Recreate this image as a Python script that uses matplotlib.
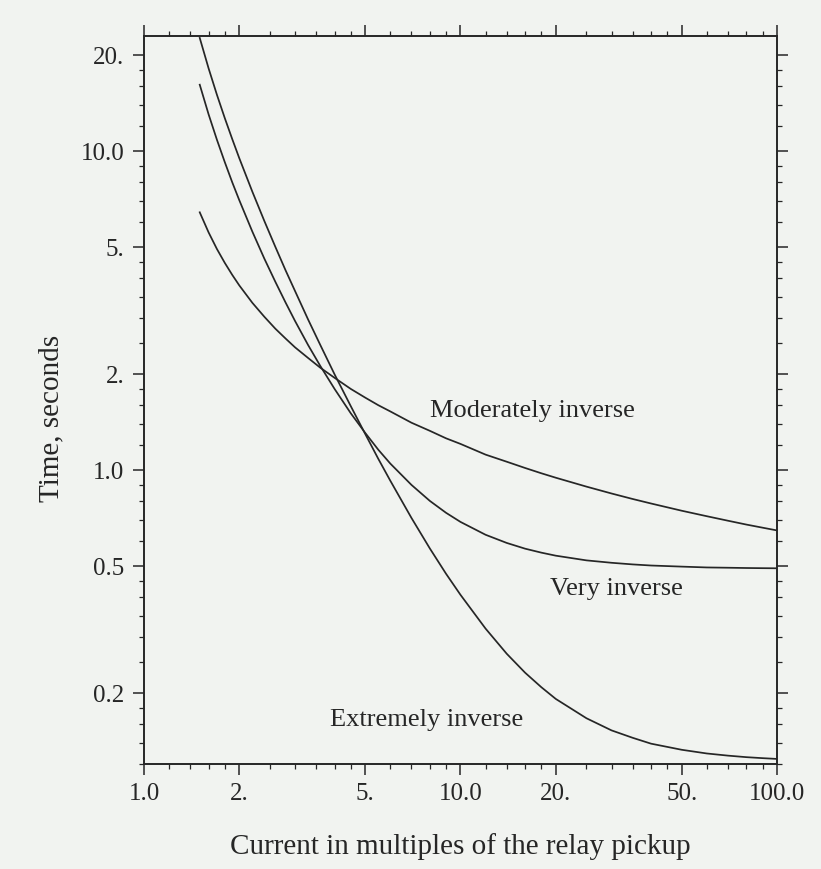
import numpy as np
import matplotlib
matplotlib.use('Agg')
import matplotlib.pyplot as plt
from matplotlib.ticker import FixedLocator, NullFormatter

plt.rcParams['font.family'] = ['Liberation Serif', 'DejaVu Serif']

# multiples of pickup current
current = [1.5, 1.6, 1.7, 1.8, 1.9, 2.0, 2.2, 2.4, 2.6, 2.8, 3.0, 3.3, 3.6, 4.0, 4.5,
           5.0, 5.5, 6, 7, 8, 9, 10, 12, 14, 16, 18, 20, 25, 30, 35, 40, 50,
           60, 70, 80, 90, 100]
# operating time, seconds
moderately = [6.44, 5.57, 4.94, 4.47, 4.10, 3.80, 3.35, 3.03, 2.78, 2.59, 2.43, 2.25, 2.10,
              1.95, 1.80, 1.69, 1.60, 1.53, 1.41, 1.33, 1.26, 1.21, 1.12, 1.064, 1.017,
              0.979, 0.948, 0.889, 0.846, 0.813, 0.787, 0.747, 0.718, 0.695, 0.676,
              0.661, 0.648]
very = [16.18, 13.06, 10.87, 9.25, 8.00, 7.03, 5.60, 4.61, 3.90, 3.36, 2.94, 2.47, 2.13,
        1.80, 1.51, 1.31, 1.16, 1.05, 0.900, 0.802, 0.736, 0.689, 0.628, 0.592, 0.568,
        0.552, 0.540, 0.522, 0.513, 0.507, 0.503, 0.499, 0.496, 0.495, 0.494, 0.4934,
        0.493]
extremely = [22.68, 18.20, 15.04, 12.71, 10.93, 9.52, 7.47, 6.05, 5.02, 4.24, 3.65, 2.97,
             2.48, 2.00, 1.59, 1.30, 1.086, 0.928, 0.709, 0.569, 0.474, 0.407, 0.319,
             0.266, 0.232, 0.209, 0.192, 0.167, 0.153, 0.145, 0.139, 0.133, 0.1295,
             0.1275, 0.1261, 0.1252, 0.1245]

x_ticks = [1, 2, 5, 10, 20, 50, 100]
x_tick_labels = ['1.0', '2.', '5.', '10.0', '20.', '50.', '100.0']
y_ticks = [0.2, 0.5, 1, 2, 5, 10, 20]
y_tick_labels = ['0.2', '0.5', '1.0', '2.', '5.', '10.0', '20.']
minor_steps = [1.2, 1.4, 1.6, 1.8, 2.5, 3, 3.5, 4, 4.5, 6, 7, 8, 9]

ink = '#262626'
paper = '#f1f3f0'

fig = plt.figure(figsize=(8.21, 8.69), dpi=100, facecolor=paper)
ax = fig.add_axes([0.1754, 0.1208, 0.771, 0.8378], facecolor=paper)

ax.plot(current, moderately, color=ink, lw=1.25)
ax.plot(current, very, color=ink, lw=1.25)
ax.plot(current, extremely, color=ink, lw=1.25)

ax.set_xscale('log')
ax.set_yscale('log')
ax.set_xlim(1, 100)
ax.set_ylim(0.12, 23)

minors = [m * d for d in (0.1, 1, 10) for m in minor_steps]
ax.xaxis.set_major_locator(FixedLocator(x_ticks))
ax.xaxis.set_minor_locator(FixedLocator([v for v in minors if 1 < v < 100]))
ax.set_xticklabels(x_tick_labels)
ax.yaxis.set_major_locator(FixedLocator(y_ticks))
ax.yaxis.set_minor_locator(FixedLocator([v for v in minors if 0.12 <= v < 23]))
ax.set_yticklabels(y_tick_labels)
ax.xaxis.set_minor_formatter(NullFormatter())
ax.yaxis.set_minor_formatter(NullFormatter())

ax.tick_params(which='both', direction='out', top=True, right=True,
               color=ink, labelsize=18, labelcolor=ink)
ax.tick_params(which='major', length=8, width=1.1)
ax.tick_params(which='minor', length=3.5, width=0.9)
ax.tick_params(axis='x', pad=6)
ax.tick_params(axis='y', pad=6)
for s in ax.spines.values():
    s.set_color(ink)
    s.set_linewidth(1.4)

ax.set_xlabel('Current in multiples of the relay pickup', fontsize=21, color=ink, labelpad=20)
ax.set_ylabel('Time, seconds', fontsize=21, color=ink, labelpad=12)
ax.yaxis.label.set_y(0.474)

ax.text(16.9, 1.54, 'Moderately inverse', fontsize=19, color=ink, ha='center', va='center')
ax.text(31, 0.426, 'Very inverse', fontsize=19, color=ink, ha='center', va='center')
ax.text(7.84, 0.165, 'Extremely inverse', fontsize=19, color=ink, ha='center', va='center')

fig.savefig('out.png', dpi=100, facecolor=paper)
